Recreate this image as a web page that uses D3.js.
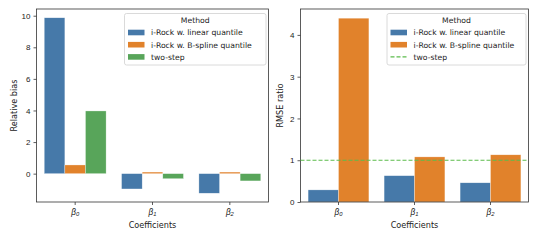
<!DOCTYPE html>
<html>
<head>
<meta charset="utf-8">
<script src="https://cdn.jsdelivr.net/npm/d3@7"></script>
<style>
  body { margin: 0; background: #fff; }
  svg { font-family: "DejaVu Sans", sans-serif; }
  .tick text { font-size: 8px; fill: #222; }
  .lbl { font-size: 8.1px; fill: #222; }
  .leg { font-size: 7.7px; fill: #222; }
</style>
</head>
<body>
<svg id="fig" width="540" height="240"></svg>
<script>
var coefs = ["0", "1", "2"]; // subscripts of beta
var methods = ["i-Rock w. linear quantile", "i-Rock w. B-spline quantile", "two-step"];
var colors = ["#4679a9", "#e1822b", "#58a55a"];
var refColor = "#5cbc4c";

var biasLinear = [9.87, -0.97, -1.24];
var biasSpline = [0.55, 0.10, 0.10];
var biasTwoStep = [3.97, -0.32, -0.46];

var rmseLinear = [0.29, 0.63, 0.46];
var rmseSpline = [4.40, 1.08, 1.13];
var rmseRef = 1; // two-step line

var biasTicks = [0, 2, 4, 6, 8, 10];
var rmseTicks = [0, 1, 2, 3, 4];

var svg = d3.select("#fig");

function gpos(x, y) { return "translate(" + x + "," + y + ")"; }

// one panel: box in px, y domain, series list
function panel(box, ydom, yticks, series, ylabel) {
  var g = svg.append("g");
  var x = d3.scaleBand().domain(coefs).range([box.x0, box.x1])
            .paddingInner(0.2).paddingOuter(0.1);
  var xh = d3.scaleBand().domain(d3.range(series.length)).range([0, x.bandwidth()]);
  var y = d3.scaleLinear().domain(ydom).range([box.y1, box.y0]);

  series.forEach(function(s, k) {
    g.append("g").selectAll("rect").data(s.vals).enter().append("rect")
      .attr("x", function(d, i) { return x(coefs[i]) + xh(k); })
      .attr("width", xh.bandwidth())
      .attr("y", function(d) { return y(Math.max(0, d)); })
      .attr("height", function(d) { return Math.abs(y(d) - y(0)); })
      .attr("fill", s.color)
      .attr("stroke", "#fff").attr("stroke-width", 0.5).attr("stroke-opacity", 0.6);
  });

  var yax = g.append("g").attr("transform", gpos(box.x0, 0))
    .call(d3.axisLeft(y).tickValues(yticks).tickFormat(d3.format("d")).tickSize(3).tickPadding(3));
  var xax = g.append("g").attr("transform", gpos(0, box.y1))
    .call(d3.axisBottom(x).tickSize(3).tickPadding(3).tickFormat(""));
  [yax, xax].forEach(function(a) {
    a.select(".domain").remove();
    a.selectAll("line").attr("stroke", "#333").attr("stroke-width", 0.8);
  });
  xax.selectAll(".tick").append("text")
    .attr("y", 12.5).attr("text-anchor", "middle").attr("fill", "#222")
    .each(function(d) {
      var t = d3.select(this);
      t.append("tspan").attr("font-style", "italic").attr("font-size", "8.2px").text("β");
      t.append("tspan").attr("font-style", "italic").attr("font-size", "5.8px").attr("dy", 1.6).text(d);
    });

  // spines
  g.append("rect").attr("x", box.x0).attr("y", box.y0)
    .attr("width", box.x1 - box.x0).attr("height", box.y1 - box.y0)
    .attr("fill", "none").attr("stroke", "#333").attr("stroke-width", 0.8);

  g.append("text").attr("class", "lbl").attr("text-anchor", "middle")
    .attr("x", (box.x0 + box.x1) / 2).attr("y", 228).text("Coefficients");
  g.append("text").attr("class", "lbl").attr("text-anchor", "middle")
    .attr("transform", gpos(box.labx, (box.y0 + box.y1) / 2) + " rotate(-90)")
    .text(ylabel);
  return { g: g, x: x, y: y };
}

function legend(g, lx, ly, w, items) {
  var lg = g.append("g").attr("transform", gpos(lx, ly));
  lg.append("rect").attr("width", w).attr("height", 51.5).attr("rx", 2)
    .attr("fill", "#fff").attr("fill-opacity", 0.8)
    .attr("stroke", "#d0d0d0").attr("stroke-width", 0.8);
  lg.append("text").attr("class", "leg").attr("text-anchor", "middle")
    .attr("x", w / 2).attr("y", 9.8).text("Method");
  items.forEach(function(it, i) {
    var yy = 19 + i * 12.2;
    if (it.dash) {
      lg.append("line").attr("x1", 3.5).attr("x2", 20).attr("y1", yy).attr("y2", yy)
        .attr("stroke", it.color).attr("stroke-width", 1.1).attr("stroke-dasharray", "4,2");
    } else {
      lg.append("rect").attr("x", 3.5).attr("y", yy - 2.8).attr("width", 16.5).attr("height", 5.6)
        .attr("fill", it.color);
    }
    lg.append("text").attr("class", "leg").attr("x", 26.5).attr("y", yy + 2.8).text(it.name);
  });
}

var left = panel({ x0: 36.5, x1: 268.5, y0: 9, y1: 202, labx: 16.5 }, [-1.795, 10.425], biasTicks,
  [{ vals: biasLinear, color: colors[0] }, { vals: biasSpline, color: colors[1] }, { vals: biasTwoStep, color: colors[2] }],
  "Relative bias");
legend(left.g, 124.5, 13.5, 141.5, methods.map(function(m, i) { return { name: m, color: colors[i] }; }));

var right = panel({ x0: 300.5, x1: 528.5, y0: 9, y1: 202, labx: 283 }, [0, 4.62], rmseTicks,
  [{ vals: rmseLinear, color: colors[0] }, { vals: rmseSpline, color: colors[1] }],
  "RMSE ratio");
right.g.append("line")
  .attr("x1", 300.5).attr("x2", 528.5)
  .attr("y1", right.y(rmseRef)).attr("y2", right.y(rmseRef))
  .attr("stroke", refColor).attr("stroke-width", 1.1).attr("stroke-dasharray", "4,2");
legend(right.g, 387, 13.5, 139, [
  { name: methods[0], color: colors[0] },
  { name: methods[1], color: colors[1] },
  { name: methods[2], color: refColor, dash: true }]);
</script>
</body>
</html>
